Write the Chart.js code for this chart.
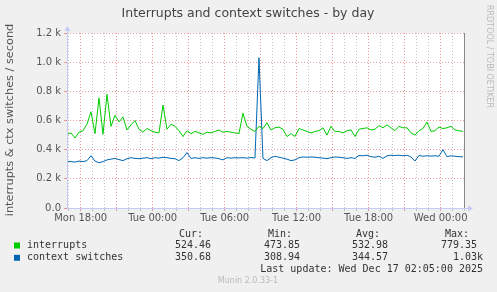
<!DOCTYPE html>
<html>
<head>
<meta charset="utf-8">
<script src="https://cdn.jsdelivr.net/npm/chart.js@4/dist/chart.umd.min.js"></script>
<style>
  html, body { margin: 0; padding: 0; background: #f0f0f0; }
  canvas { display: block; }
</style>
</head>
<body>
<canvas id="grafico" width="497" height="292"></canvas>
<script>
// eixo de tempo: horas contadas a partir de seg 00:00
const horaInicio = 16.86;
const horaFim = 50.03;
const passoHoras = 1 / 3; // uma amostra a cada 20 min

const xTickHoras = [18, 24, 30, 36, 42, 48];
const xTickLabels = ["Mon 18:00", "Tue 00:00", "Tue 06:00", "Tue 12:00", "Tue 18:00", "Wed 00:00"];
const yTickValores = [0, 100, 200, 300, 400, 500, 600, 700, 800, 900, 1000, 1100, 1200];
const yTickLabels = ["0.0", "0.1 k", "0.2 k", "0.3 k", "0.4 k", "0.5 k", "0.6 k", "0.7 k", "0.8 k", "0.9 k", "1.0 k", "1.1 k", "1.2 k"];

const interrupts = [
  505, 515, 480, 520, 530, 575, 660, 510, 755, 505, 779, 560, 635, 590, 625, 535, 570,
  600, 540, 520, 545, 530, 520, 515, 706, 540, 575, 560, 530, 490, 530, 510, 525, 515,
  505, 520, 515, 525, 535, 520, 525, 520, 515, 510, 650, 560, 540, 525, 560, 545, 585,
  535, 550, 555, 540, 490, 510, 490, 545, 535, 525, 515, 525, 530, 550, 500, 560, 525,
  525, 515, 530, 535, 490, 540, 545, 550, 535, 540, 565, 550, 570, 550, 530, 560, 550,
  550, 515, 500, 530, 545, 590, 525, 530, 555, 545, 550, 560, 535, 530, 525
];
const ctxSwitches = [
  320, 318, 315, 322, 318, 325, 358, 322, 310, 318, 330, 335, 340, 332, 325, 338, 345,
  340, 338, 342, 345, 338, 345, 342, 348, 345, 340, 338, 325, 345, 380, 340, 345, 340,
  345, 342, 345, 343, 338, 330, 345, 342, 345, 343, 345, 342, 346, 343, 1030, 340, 325,
  345, 355, 348, 342, 335, 325, 330, 345, 350, 348, 350, 348, 345, 342, 338, 345, 350,
  348, 345, 340, 345, 340, 360, 358, 362, 352, 348, 355, 340, 358, 362, 360, 362, 358,
  362, 350, 322, 360, 355, 358, 356, 358, 355, 400, 352, 358, 355, 352, 351
];

const legendaCampos = ["Cur:", "Min:", "Avg:", "Max:"];
const legendaSeries = [
  { nome: "interrupts", cor: "#00cc00", valores: ["524.46", "473.85", "532.98", "779.35"] },
  { nome: "context switches", cor: "#0066b3", valores: ["350.68", "308.94", "344.57", "1.03k"] }
];
const ultimaAtualizacao = "Last update: Wed Dec 17 02:05:00 2025";

const pontos = serie => serie.map((v, i) => ({ x: horaInicio + i * passoHoras, y: v }));

const vermelho = "rgba(225,90,90,0.6)";
const cinza = "rgba(150,150,150,0.55)";
const corEixo = "#c6caf6";

const decoracao = {
  id: "decoracao",
  beforeDraw(chart) {
    const { ctx, chartArea: a } = chart;
    ctx.save();
    ctx.fillStyle = "#ffffff";
    ctx.fillRect(a.left, a.top, a.right - a.left, a.bottom - a.top);
    ctx.restore();
  },
  afterDraw(chart) {
    const { ctx, chartArea: a } = chart;
    ctx.save();

    // eixos com setas
    ctx.strokeStyle = corEixo;
    ctx.fillStyle = corEixo;
    ctx.lineWidth = 1;
    ctx.beginPath();
    ctx.moveTo(a.left + 0.5, a.bottom);
    ctx.lineTo(a.left + 0.5, a.top - 4);
    ctx.moveTo(a.left, a.bottom + 0.5);
    ctx.lineTo(a.right + 4, a.bottom + 0.5);
    ctx.stroke();
    ctx.beginPath();
    ctx.moveTo(a.left - 2.5, a.top - 2);
    ctx.lineTo(a.left + 3.5, a.top - 2);
    ctx.lineTo(a.left + 0.5, a.top - 7);
    ctx.closePath();
    ctx.fill();
    ctx.beginPath();
    ctx.moveTo(a.right + 3, a.bottom - 2.5);
    ctx.lineTo(a.right + 3, a.bottom + 3.5);
    ctx.lineTo(a.right + 8, a.bottom + 0.5);
    ctx.closePath();
    ctx.fill();

    // linha vertical do fim
    ctx.strokeStyle = "#888888";
    ctx.beginPath();
    ctx.moveTo(a.right - 0.5, a.top);
    ctx.lineTo(a.right - 0.5, a.bottom);
    ctx.stroke();

    // titulo
    ctx.fillStyle = "#444444";
    ctx.font = "12.5px 'DejaVu Sans'";
    ctx.textAlign = "center";
    ctx.textBaseline = "middle";
    ctx.fillText("Interrupts and context switches - by day", 248, 14);

    // titulo do eixo y
    ctx.save();
    ctx.translate(10, 120);
    ctx.rotate(-Math.PI / 2);
    ctx.font = "11.3px 'DejaVu Sans'";
    ctx.fillStyle = "#555555";
    ctx.fillText("interrupts & ctx switches / second", 0, 0);
    ctx.restore();

    // marca rrdtool
    ctx.save();
    ctx.translate(489, 56.5);
    ctx.rotate(Math.PI / 2);
    ctx.font = "8px 'DejaVu Sans'";
    ctx.fillStyle = "#bbbbbb";
    ctx.fillText("RRDTOOL / TOBI OETIKER", 0, 0);
    ctx.restore();

    // legenda
    ctx.font = "10px 'DejaVu Sans Mono'";
    ctx.fillStyle = "#333333";
    ctx.textAlign = "right";
    const colunasCab = [203, 292, 380, 469];
    const colunasVal = [211, 300, 388, 477];
    legendaCampos.forEach((c, i) => ctx.fillText(c, colunasCab[i], 234));
    legendaSeries.forEach((s, linha) => {
      const y = 245.5 + linha * 12.3;
      ctx.fillStyle = s.cor;
      ctx.fillRect(14, y - 3, 6, 6);
      ctx.fillStyle = "#333333";
      ctx.textAlign = "left";
      ctx.fillText(s.nome, 27, y);
      ctx.textAlign = "right";
      s.valores.forEach((v, i) => {
        const x = (linha === 1 && i === 3) ? 483 : colunasVal[i];
        ctx.fillText(v, x, y);
      });
    });
    ctx.fillText(ultimaAtualizacao, 483, 269.5);

    ctx.textAlign = "center";
    ctx.font = "8px 'DejaVu Sans'";
    ctx.fillStyle = "#bbbbbb";
    ctx.fillText("Munin 2.0.33-1", 248, 281);
    ctx.restore();
  }
};

new Chart(document.getElementById("grafico"), {
  type: "line",
  data: {
    datasets: [
      { label: "interrupts", data: pontos(interrupts), borderColor: "#00cc00", borderWidth: 1, pointRadius: 0, tension: 0 },
      { label: "context switches", data: pontos(ctxSwitches), borderColor: "#0066b3", borderWidth: 1, pointRadius: 0, tension: 0 }
    ]
  },
  options: {
    responsive: false,
    devicePixelRatio: 1,
    animation: false,
    events: [],
    layout: { padding: { left: 0, right: 32, top: 33, bottom: 70 } },
    plugins: { legend: { display: false }, tooltip: { enabled: false }, title: { display: false } },
    scales: {
      x: {
        type: "linear",
        min: horaInicio,
        max: horaFim,
        afterFit: s => { s.height = 14; },
        ticks: {
          stepSize: 1,
          autoSkip: false,
          includeBounds: false,
          maxRotation: 0,
          padding: 1,
          color: "#555555",
          font: { family: "'DejaVu Sans'", size: 10 },
          callback: v => {
            const k = xTickHoras.indexOf(Math.round(v));
            return k >= 0 ? xTickLabels[k] : "";
          }
        },
        grid: {
          color: c => (Math.round(c.tick.value) % 3 === 0 ? vermelho : cinza),
          tickLength: 3,
          lineWidth: 1
        },
        border: { display: false, dash: [1, 2] }
      },
      y: {
        min: 0,
        max: 1200,
        afterFit: s => { s.width = 67; },
        ticks: {
          stepSize: 100,
          padding: 3,
          color: "#555555",
          font: { family: "'DejaVu Sans'", size: 10 },
          callback: v => {
            const k = yTickValores.indexOf(v);
            return k >= 0 ? yTickLabels[k] : "";
          }
        },
        grid: { color: vermelho, tickLength: 3, lineWidth: 1 },
        border: { display: false, dash: [1, 2] }
      }
    }
  },
  plugins: [decoracao]
});
</script>
</body>
</html>
